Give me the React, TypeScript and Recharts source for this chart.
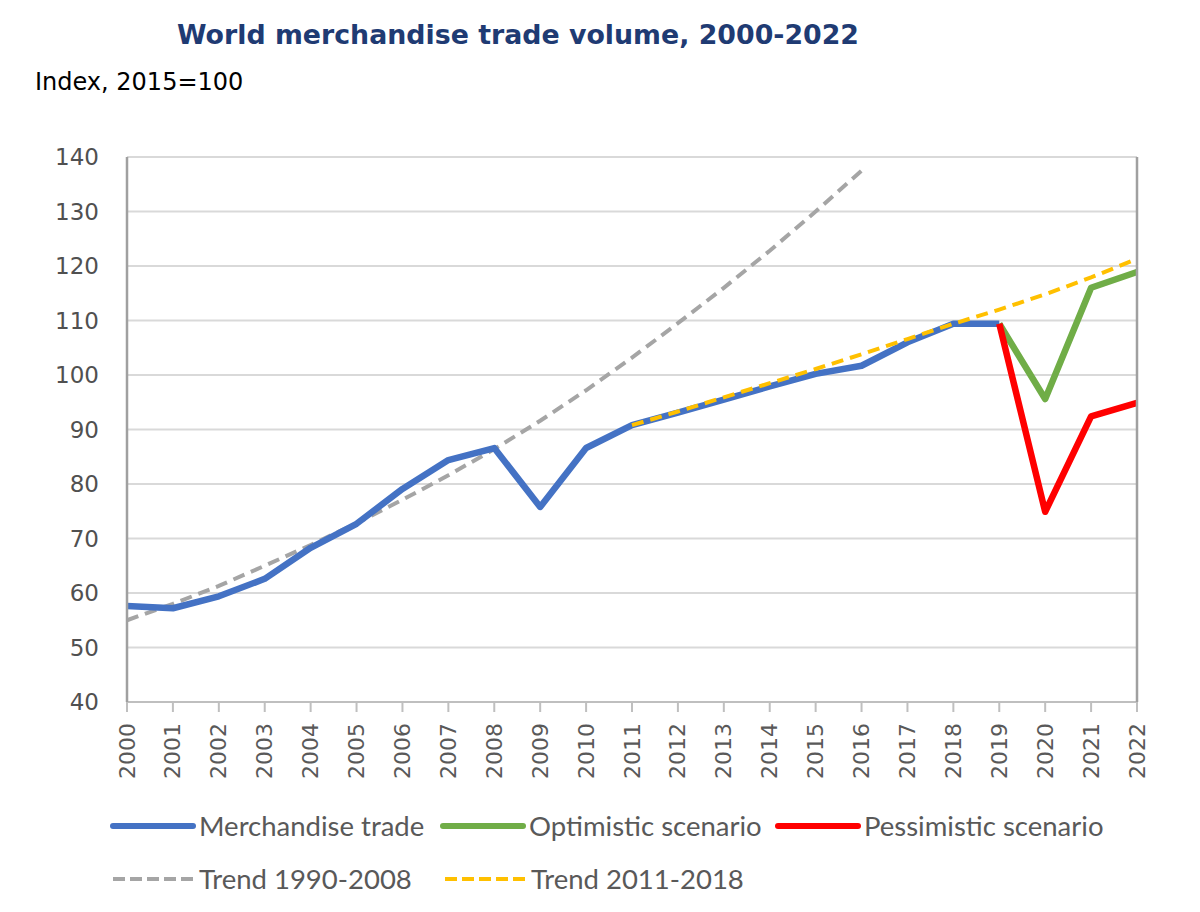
import React from 'react';
import { LineChart, Line, XAxis, YAxis, CartesianGrid } from 'recharts';

const YEARS = [
  2000, 2001, 2002, 2003, 2004, 2005, 2006, 2007, 2008, 2009, 2010, 2011,
  2012, 2013, 2014, 2015, 2016, 2017, 2018, 2019, 2020, 2021, 2022,
];

const MERCHANDISE = [
  57.6, 57.2, 59.4, 62.6, 68.3, 72.7, 79.1, 84.4, 86.6, 75.8, 86.6, 90.8,
  93.1, 95.5, 97.9, 100.2, 101.7, 106.0, 109.4, 109.4, null, null, null,
];

const OPTIMISTIC = [
  null, null, null, null, null, null, null, null, null, null, null, null,
  null, null, null, null, null, null, null, 109.4, 95.6, 116.0, 118.9,
];

const PESSIMISTIC = [
  null, null, null, null, null, null, null, null, null, null, null, null,
  null, null, null, null, null, null, null, 109.4, 74.9, 92.4, 94.9,
];

const TREND_1990_2008 = [
  55.0, 58.0, 61.3, 65.0, 68.8, 72.8, 77.1, 81.6, 86.4, 91.6, 97.2, 103.2,
  109.5, 116.0, 122.8, 130.0, 137.5, null, null, null, null, null, null,
];

const TREND_2011_2018 = [
  null, null, null, null, null, null, null, null, null, null, null, 90.8,
  93.3, 95.9, 98.5, 101.1, 103.8, 106.6, 109.4, 112.0, 114.8, 117.9, 121.3,
];

const Y_TICKS = [40, 50, 60, 70, 80, 90, 100, 110, 120, 130, 140];

const TITLE = 'World merchandise trade volume, 2000-2022';
const SUBTITLE = 'Index, 2015=100';

const data = YEARS.map((year, i) => ({
  year,
  merchandise: MERCHANDISE[i],
  optimistic: OPTIMISTIC[i],
  pessimistic: PESSIMISTIC[i],
  trend1: TREND_1990_2008[i],
  trend2: TREND_2011_2018[i],
}));

const TICK_FONT = '"DejaVu Sans", Verdana, sans-serif';
const LEGEND_FONT = 'Lato, "Open Sans", sans-serif';
const AXIS_GRAY = '#a0a0a0';

const YearTick = (props: any) => {
  const { x, y, payload } = props;
  return (
    <text
      x={x}
      y={y}
      transform={`rotate(-90 ${x} ${y})`}
      textAnchor="end"
      dominantBaseline="central"
      fontSize={22}
      fontFamily={TICK_FONT}
      fill="#595959"
    >
      {payload.value}
    </text>
  );
};

// legend rows, drawn as plain svg under the chart
const legendRow1 = [
  { label: 'Merchandise trade', color: '#4472C4', dash: undefined, x: 113 },
  { label: 'Optimistic scenario', color: '#70AD47', dash: undefined, x: 443 },
  { label: 'Pessimistic scenario', color: '#FF0000', dash: undefined, x: 778 },
];
const legendRow2 = [
  { label: 'Trend 1990-2008', color: '#A5A5A5', dash: '12 5', x: 113 },
  { label: 'Trend 2011-2018', color: '#FFC000', dash: '12 5', x: 445 },
];

const LegendItem = ({ item, y }: { item: any; y: number }) => (
  <g>
    <line
      x1={item.x}
      x2={item.x + 80}
      y1={y - 10}
      y2={y - 10}
      stroke={item.color}
      strokeWidth={item.dash ? 4 : 6}
      strokeDasharray={item.dash}
      strokeLinecap={item.dash ? 'butt' : 'round'}
    />
    <text x={item.x + 86} y={y} fontSize={27.5} fontFamily={LEGEND_FONT} fill="#595959">
      {item.label}
    </text>
  </g>
);

export default function App() {
  return (
    <div style={{ position: 'absolute', left: 0, top: 0, width: 1200, height: 912, background: '#fff' }}>
      <svg width={1200} height={110} style={{ position: 'absolute', left: 0, top: 0 }}>
        <text x={177} y={44} fontSize={26.8} fontWeight="bold" fontFamily={TICK_FONT} fill="#1F3B73">
          {TITLE}
        </text>
        <text x={35} y={90} fontSize={24} fontFamily={TICK_FONT} fill="#000">
          {SUBTITLE}
        </text>
      </svg>
      <div style={{ position: 'absolute', left: 0, top: 0 }}>
        <LineChart
          width={1200}
          height={810}
          data={data}
          margin={{ top: 157, right: 62, left: 47, bottom: 8 }}
        >
          <CartesianGrid horizontal vertical={false} stroke="#d9d9d9" strokeWidth={2} />
          <XAxis
            dataKey="year"
            type="number"
            domain={[2000, 2022]}
            ticks={YEARS}
            interval={0}
            height={100}
            tickSize={10}
            tickMargin={11}
            tick={<YearTick />}
            axisLine={{ stroke: '#bfbfbf', strokeWidth: 2 }}
            tickLine={{ stroke: '#bfbfbf', strokeWidth: 2 }}
          />
          <XAxis
            xAxisId="top"
            orientation="top"
            dataKey="year"
            type="number"
            domain={[2000, 2022]}
            height={0}
            tick={false}
            tickLine={false}
            axisLine={{ stroke: AXIS_GRAY, strokeWidth: 2.5 }}
          />
          <YAxis
            domain={[40, 140]}
            ticks={Y_TICKS}
            interval={0}
            width={80}
            tickLine={false}
            tickMargin={22}
            tick={{ fontSize: 23, fontFamily: TICK_FONT, fill: '#505050' }}
            axisLine={{ stroke: AXIS_GRAY, strokeWidth: 2.5 }}
          />
          <YAxis
            yAxisId="right"
            orientation="right"
            domain={[40, 140]}
            width={1}
            tick={false}
            tickLine={false}
            axisLine={{ stroke: AXIS_GRAY, strokeWidth: 2.5 }}
          />
          <Line
            dataKey="trend1"
            stroke="#A5A5A5"
            strokeWidth={4}
            strokeDasharray="12 7"
            dot={false}
            isAnimationActive={false}
          />
          <Line
            dataKey="merchandise"
            stroke="#4472C4"
            strokeWidth={6.5}
            strokeLinejoin="round"
            dot={false}
            isAnimationActive={false}
          />
          <Line
            dataKey="optimistic"
            stroke="#70AD47"
            strokeWidth={6.5}
            strokeLinejoin="round"
            dot={false}
            isAnimationActive={false}
          />
          <Line
            dataKey="pessimistic"
            stroke="#FF0000"
            strokeWidth={6.5}
            strokeLinejoin="round"
            dot={false}
            isAnimationActive={false}
          />
          <Line
            dataKey="trend2"
            stroke="#FFC000"
            strokeWidth={4}
            strokeDasharray="12 7"
            dot={false}
            isAnimationActive={false}
          />
        </LineChart>
      </div>
      <svg width={1200} height={110} style={{ position: 'absolute', left: 0, top: 800 }}>
        {legendRow1.map((item) => (
          <LegendItem key={item.label} item={item} y={36} />
        ))}
        {legendRow2.map((item) => (
          <LegendItem key={item.label} item={item} y={89} />
        ))}
      </svg>
    </div>
  );
}
